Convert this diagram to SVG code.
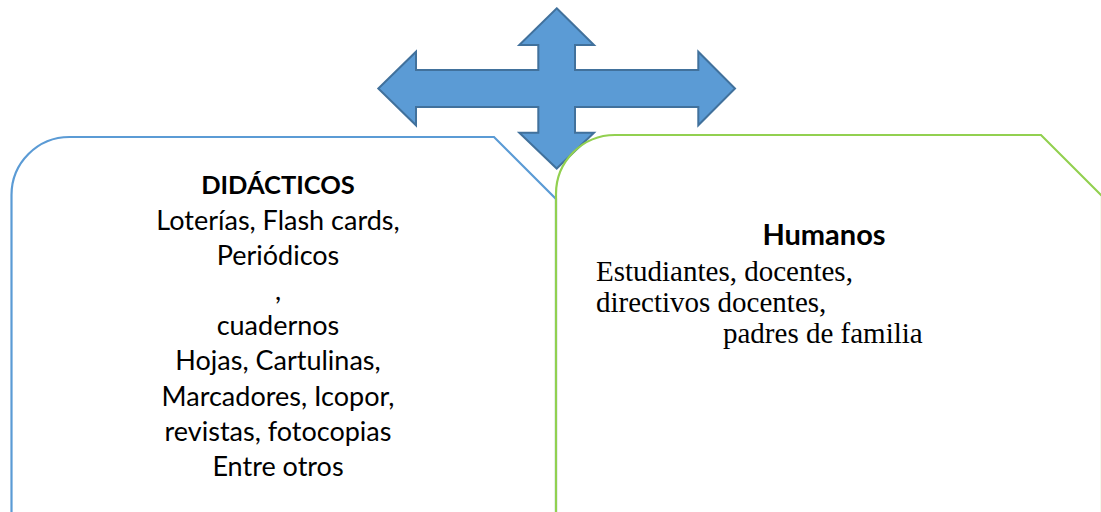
<svg xmlns="http://www.w3.org/2000/svg" width="1101" height="512" viewBox="0 0 1101 512">
<style>
.bg{fill:#ffffff}
.box{fill:none;stroke-width:2.2}
.blue{stroke:#5B9BD5}
.green{stroke:#92D050}
.arrow{fill:#5B9BD5;stroke:#41719C;stroke-width:2;stroke-linejoin:miter}
.cal{font-family:Lato,"Open Sans",sans-serif;font-size:27px;fill:#000;text-anchor:middle}
.b{font-weight:bold}
.tnr{font-family:"Liberation Serif","Times New Roman",serif;font-size:29px;fill:#000}
</style>
<rect class="bg" x="0" y="0" width="1101" height="512"/>
<g id="didacticos">
<path class="box blue" d="M11.5,520 V195 A58,58 0 0 1 69.5,137 H494 L556,199 V520"/>
<text class="cal b" x="278" y="194" style="font-size:25.5px">DIDÁCTICOS</text>
<text class="cal" x="278" y="230">Loterías, Flash cards,</text>
<text class="cal" x="278" y="265">Periódicos</text>
<text class="cal" x="278" y="300">,</text>
<text class="cal" x="278" y="335">cuadernos</text>
<text class="cal" x="278" y="370">Hojas, Cartulinas,</text>
<text class="cal" x="278" y="406">Marcadores, Icopor,</text>
<text class="cal" x="278" y="441">revistas, fotocopias</text>
<text class="cal" x="278" y="476">Entre otros</text>
</g>
<g id="connectors">
<polygon class="arrow" points="556.7,8.3 594,45 575,45 575,70 698.3,70 698.3,51.7 735,88.5 698.3,125.3 698.3,107 575,107 575,132.7 594,132.7 556.7,168.5 519.3,132.7 538.3,132.7 538.3,107 416,107 416,125.3 378.3,88.5 416,51.7 416,70 538.3,70 538.3,45 519.3,45"/>
</g>
<g id="humanos">
<path class="box green" d="M556,520 V194 A59,59 0 0 1 615,135 H1041 L1102,196 V520"/>
<text class="cal b" x="824" y="245" style="font-size:29px">Humanos</text>
<text class="tnr" x="596" y="281">Estudiantes, docentes,</text>
<text class="tnr" x="596" y="312">directivos docentes,</text>
<text class="tnr" x="723" y="343">padres de familia</text>
</g>
</svg>
